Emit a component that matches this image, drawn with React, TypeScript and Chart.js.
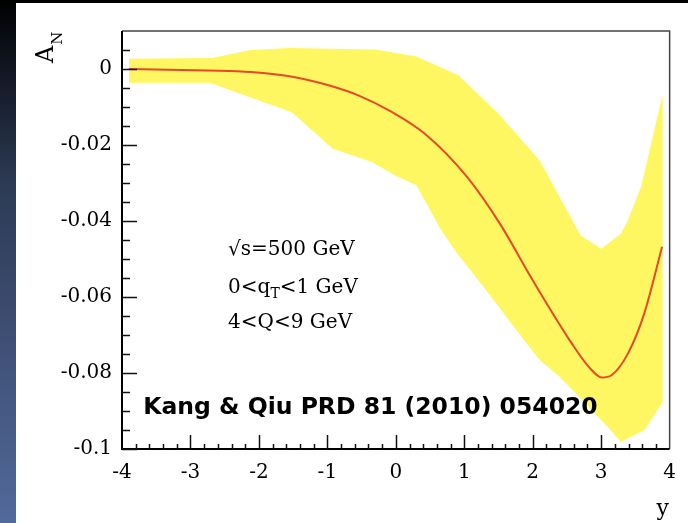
import React, { useEffect, useRef } from "react";
import { Chart, registerables } from "chart.js";
Chart.register(...registerables);

// Central curve (red line)
const centerX = [-3.9, -2.74, -2.12, -1.49, -1.02, -0.54, -0.06, 0.42, 1.04, 1.52, 2.0, 2.57, 2.82, 3.01, 3.15, 3.39, 3.63, 3.89];
const centerY = [0, -0.0004, -0.0008, -0.0021, -0.0041, -0.007, -0.0113, -0.017, -0.0284, -0.0407, -0.0556, -0.0722, -0.0784, -0.0812, -0.0806, -0.0749, -0.0643, -0.0468];

// Uncertainty band (yellow)
const upperX = [-3.9, -2.69, -2.12, -1.55, -0.3, 0.3, 0.92, 1.52, 2.1, 2.7, 3.0, 3.29, 3.39, 3.58, 3.9];
const upperY = [0.0027, 0.0029, 0.005, 0.0055, 0.0051, 0.0033, -0.0017, -0.0122, -0.024, -0.0438, -0.0473, -0.0433, -0.0398, -0.0311, -0.0065];
const lowerX = [-3.9, -2.72, -1.52, -0.92, -0.35, -0.01, 0.3, 0.66, 0.9, 1.28, 1.76, 2.1, 2.39, 2.82, 3.29, 3.63, 3.9];
const lowerY = [-0.0036, -0.0036, -0.0114, -0.021, -0.0245, -0.028, -0.0306, -0.0424, -0.0486, -0.0573, -0.0687, -0.0766, -0.081, -0.0889, -0.0981, -0.095, -0.0876];

// Axes
const xTickValues = [-4, -3, -2, -1, 0, 1, 2, 3, 4];
const xTickLabels = ["-4", "-3", "-2", "-1", "0", "1", "2", "3", "4"];
const yTickValues = [-0.1, -0.08, -0.06, -0.04, -0.02, 0];
const yTickLabels = ["-0.1", "-0.08", "-0.06", "-0.04", "-0.02", "0"];
const xRange = [-4, 4];
const yRange = [-0.1, 0.01];

// Texts
const annotationLines = ["√s=500 GeV", "0<q|T|<1 GeV", "4<Q<9 GeV"];
const citation = "Kang & Qiu PRD 81 (2010) 054020";
const yTitle = ["A", "N"];
const xTitle = "y";

const SERIF = "'DejaVu Serif', 'Liberation Serif', serif";

export default function App() {
  const ref = useRef<HTMLCanvasElement>(null);

  useEffect(() => {
    const canvas = ref.current!;
    const pts = (xs: number[], ys: number[]) => xs.map((x, i) => ({ x, y: ys[i] }));

    const decor = {
      id: "decor",
      afterDraw(chart: any) {
        const { ctx, chartArea: a, scales } = chart;
        const xs = scales.x;
        const ys = scales.y;
        ctx.save();
        // frame top/right
        ctx.strokeStyle = "#444";
        ctx.lineWidth = 1.5;
        ctx.beginPath();
        ctx.moveTo(a.left, a.top);
        ctx.lineTo(a.right, a.top);
        ctx.lineTo(a.right, a.bottom);
        ctx.stroke();
        // axes left/bottom
        ctx.strokeStyle = "#000";
        ctx.lineWidth = 2;
        ctx.beginPath();
        ctx.moveTo(a.left, a.top);
        ctx.lineTo(a.left, a.bottom);
        ctx.lineTo(a.right, a.bottom);
        ctx.stroke();
        // y ticks (inside)
        ctx.lineWidth = 1.5;
        ctx.strokeStyle = "#111";
        const yStep = 0.005;
        const nY = Math.round((yRange[1] - yRange[0]) / yStep);
        for (let k = 0; k < nY; k++) {
          const v = yRange[0] + k * yStep;
          const major = k % 4 === 0;
          const py = Math.round(ys.getPixelForValue(v)) + 0.5;
          ctx.beginPath();
          ctx.moveTo(a.left, py);
          ctx.lineTo(a.left + (major ? 15 : 8), py);
          ctx.stroke();
        }
        // x ticks (inside)
        const xStep = 0.2;
        const nX = Math.round((xRange[1] - xRange[0]) / xStep);
        for (let k = 1; k < nX; k++) {
          const v = xRange[0] + k * xStep;
          const major = k % 5 === 0;
          const px = Math.round(xs.getPixelForValue(v)) + 0.5;
          ctx.beginPath();
          ctx.moveTo(px, a.bottom);
          ctx.lineTo(px, a.bottom - (major ? 14 : 5));
          ctx.stroke();
        }

        ctx.fillStyle = "#000";
        // annotation block
        ctx.textBaseline = "middle";
        ctx.textAlign = "left";
        const tx = xs.getPixelForValue(-2.45);
        const lineYs = [-0.0476, -0.0576, -0.0668];
        annotationLines.forEach((line, i) => {
          const y = ys.getPixelForValue(lineYs[i]);
          const parts = line.split("|");
          let x = tx;
          parts.forEach((p, j) => {
            if (j === 1) {
              ctx.font = `14px ${SERIF}`;
              ctx.fillText(p, x, y + 6);
            } else {
              ctx.font = `20px ${SERIF}`;
              ctx.fillText(p, x, y);
            }
            x += ctx.measureText(p).width;
          });
        });

        // citation
        ctx.font = `bold 23.5px 'DejaVu Sans', sans-serif`;
        ctx.fillText(citation, xs.getPixelForValue(-3.69), ys.getPixelForValue(-0.0893));

        // x title
        ctx.font = `22px ${SERIF}`;
        ctx.textAlign = "center";
        ctx.fillText(xTitle, a.right - 7, a.bottom + 60);

        // y title rotated
        ctx.save();
        ctx.translate(a.left - 69, a.top + 32);
        ctx.rotate(-Math.PI / 2);
        ctx.textAlign = "left";
        ctx.textBaseline = "alphabetic";
        ctx.font = `24px ${SERIF}`;
        ctx.fillText(yTitle[0], 0, 0);
        const w = ctx.measureText(yTitle[0]).width;
        ctx.font = `15px ${SERIF}`;
        ctx.fillText(yTitle[1], w + 1, 9);
        ctx.restore();

        ctx.restore();
      },
    };

    const chart = new Chart(canvas, {
      type: "line",
      data: {
        datasets: [
          {
            label: "A_N",
            data: pts(centerX, centerY),
            borderColor: "rgb(232,72,40)",
            borderWidth: 2,
            pointRadius: 0,
            cubicInterpolationMode: "monotone",
            fill: false,
          },
          {
            label: "upper",
            data: pts(upperX, upperY),
            borderWidth: 0,
            borderColor: "rgba(0,0,0,0)",
            backgroundColor: "rgb(255,247,98)",
            pointRadius: 0,
            tension: 0,
            fill: 2,
          },
          {
            label: "lower",
            data: pts(lowerX, lowerY),
            borderWidth: 0,
            borderColor: "rgba(0,0,0,0)",
            pointRadius: 0,
            tension: 0,
            fill: false,
          },
        ],
      },
      options: {
        animation: false,
        responsive: false,
        layout: { padding: { left: 0, right: 9, top: 28, bottom: 0 } },
        plugins: { legend: { display: false }, tooltip: { enabled: false } },
        scales: {
          x: {
            type: "linear",
            min: xRange[0],
            max: xRange[1],
            grid: { display: false, drawTicks: false },
            border: { display: false },
            afterBuildTicks: (s: any) => {
              s.ticks = xTickValues.map((v) => ({ value: v }));
            },
            afterFit: (s: any) => {
              s.height = 74;
            },
            ticks: {
              padding: 12,
              color: "#000",
              font: { family: SERIF, size: 20 },
              maxRotation: 0,
              autoSkip: false,
              callback: (v: any) => {
                const i = xTickValues.indexOf(Number(v));
                return i >= 0 ? xTickLabels[i] : "";
              },
            },
          },
          y: {
            type: "linear",
            min: yRange[0],
            max: yRange[1],
            grid: { display: false, drawTicks: false },
            border: { display: false },
            afterBuildTicks: (s: any) => {
              s.ticks = yTickValues.map((v) => ({ value: v }));
            },
            afterFit: (s: any) => {
              s.width = 106;
            },
            ticks: {
              padding: 10,
              color: "#000",
              font: { family: SERIF, size: 20 },
              autoSkip: false,
              callback: (v: any) => {
                const i = yTickValues.findIndex((t) => Math.abs(t - Number(v)) < 1e-9);
                return i >= 0 ? yTickLabels[i] : "";
              },
            },
          },
        },
      },
      plugins: [decor],
    });
    return () => chart.destroy();
  }, []);

  return (
    <div style={{ position: "absolute", left: 0, top: 0, width: 688, height: 523, background: "#000", overflow: "hidden" }}>
      <div
        style={{
          position: "absolute",
          left: 0,
          top: 0,
          width: 16,
          height: 523,
          background: "linear-gradient(to bottom, #000000 0%, #07090f 5%, #2c3a54 35%, #52699b 100%)",
        }}
      />
      <canvas
        ref={ref}
        width={672}
        height={520}
        style={{ position: "absolute", left: 16, top: 3, width: 672, height: 520, background: "#fff", display: "block" }}
      />
    </div>
  );
}
